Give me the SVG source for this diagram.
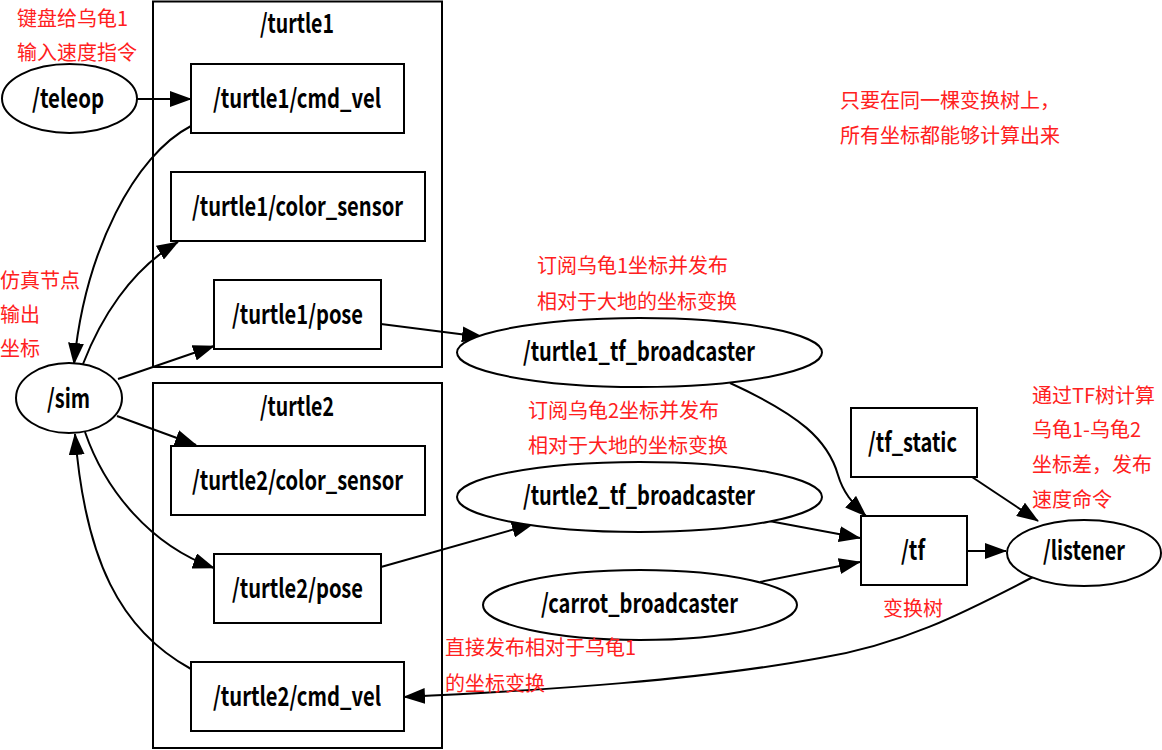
<svg xmlns="http://www.w3.org/2000/svg" width="1162" height="750" viewBox="0 0 1162 750">
<style>
.box{fill:#fff;stroke:#000;stroke-width:2}
.cl{fill:none;stroke:#000;stroke-width:2}
.lbl{font-family:"Noto Sans CJK SC","Noto Sans",sans-serif;font-weight:700;font-size:26px;fill:#000;text-anchor:middle}
.note{font-family:"Noto Sans CJK SC",sans-serif;font-size:20px;fill:#ff2020}
.e{fill:none;stroke:#000;stroke-width:2;marker-end:url(#ah)}
</style>
<defs>
<marker id="ah" viewBox="0 0 22 16" refX="21" refY="8" markerWidth="22" markerHeight="16" markerUnits="userSpaceOnUse" orient="auto">
<path d="M0,0 L22,8 L0,16 z" fill="#000"/>
</marker>
</defs>
<rect width="1162" height="750" fill="#fff"/>

<g id="cluster_turtle1">
<rect class="cl" x="153" y="1.5" width="289" height="365.5"/>
<text class="lbl" x="297" y="33" textLength="74" lengthAdjust="spacingAndGlyphs">/turtle1</text>
</g>
<g id="cluster_turtle2">
<rect class="cl" x="153" y="383" width="289" height="365"/>
<text class="lbl" x="297" y="416" textLength="74" lengthAdjust="spacingAndGlyphs">/turtle2</text>
</g>

<g id="edges">
<path class="e" d="M136,99 L191,99"/>
<path class="e" d="M191,126 C135,155 85,250 74,364"/>
<path class="e" d="M83,364 C100,320 130,270 178,242"/>
<path class="e" d="M118,379 L214,346"/>
<path class="e" d="M117,416 L196,445"/>
<path class="e" d="M85,432 C105,490 150,545 214,568"/>
<path class="e" d="M191,669 C120,630 85,560 75,434"/>
<path class="e" d="M381,324 L483,337"/>
<path class="e" d="M381,567 L533,524"/>
<path class="e" d="M730,383 C800,415 828,440 838,475 C843,492 852,503 866,516"/>
<path class="e" d="M769,521 L860,538"/>
<path class="e" d="M760,582 L860,562"/>
<path class="e" d="M972,477 L1038,521"/>
<path class="e" d="M967,551 L1006,551"/>
<path class="e" d="M1033,577 C960,615 900,645 820,658 C700,680 550,690 404,697"/>
</g>

<g id="teleop">
<ellipse class="box" cx="69.5" cy="98.5" rx="67.5" ry="34.5"/>
<text class="lbl" x="68" y="108" textLength="72" lengthAdjust="spacingAndGlyphs">/teleop</text>
</g>
<g id="sim">
<ellipse class="box" cx="69" cy="398" rx="53" ry="35"/>
<text class="lbl" x="68.5" y="408" textLength="43" lengthAdjust="spacingAndGlyphs">/sim</text>
</g>
<g id="turtle1_cmd_vel">
<rect class="box" x="191" y="64" width="213" height="69"/>
<text class="lbl" x="297" y="108" textLength="168" lengthAdjust="spacingAndGlyphs">/turtle1/cmd_vel</text>
</g>
<g id="turtle1_color_sensor">
<rect class="box" x="171" y="172" width="254" height="69"/>
<text class="lbl" x="297.5" y="216" textLength="211" lengthAdjust="spacingAndGlyphs">/turtle1/color_sensor</text>
</g>
<g id="turtle1_pose">
<rect class="box" x="214" y="280" width="167" height="69"/>
<text class="lbl" x="297.5" y="324" textLength="131" lengthAdjust="spacingAndGlyphs">/turtle1/pose</text>
</g>
<g id="turtle2_color_sensor">
<rect class="box" x="171" y="446" width="254" height="69"/>
<text class="lbl" x="297.5" y="490" textLength="211" lengthAdjust="spacingAndGlyphs">/turtle2/color_sensor</text>
</g>
<g id="turtle2_pose">
<rect class="box" x="214" y="554" width="167" height="69"/>
<text class="lbl" x="297.5" y="598" textLength="131" lengthAdjust="spacingAndGlyphs">/turtle2/pose</text>
</g>
<g id="turtle2_cmd_vel">
<rect class="box" x="191" y="662" width="213" height="69"/>
<text class="lbl" x="297" y="706" textLength="168" lengthAdjust="spacingAndGlyphs">/turtle2/cmd_vel</text>
</g>
<g id="turtle1_tf_broadcaster">
<ellipse class="box" cx="639.5" cy="352.5" rx="182.5" ry="34.5"/>
<text class="lbl" x="639" y="361" textLength="232" lengthAdjust="spacingAndGlyphs">/turtle1_tf_broadcaster</text>
</g>
<g id="turtle2_tf_broadcaster">
<ellipse class="box" cx="639.5" cy="497" rx="182.5" ry="35"/>
<text class="lbl" x="639" y="505" textLength="232" lengthAdjust="spacingAndGlyphs">/turtle2_tf_broadcaster</text>
</g>
<g id="carrot_broadcaster">
<ellipse class="box" cx="640" cy="605" rx="157" ry="35"/>
<text class="lbl" x="639.5" y="613" textLength="197" lengthAdjust="spacingAndGlyphs">/carrot_broadcaster</text>
</g>
<g id="tf_static">
<rect class="box" x="851" y="408" width="126" height="69"/>
<text class="lbl" x="912.5" y="452" textLength="89" lengthAdjust="spacingAndGlyphs">/tf_static</text>
</g>
<g id="tf">
<rect class="box" x="861" y="516" width="106" height="69"/>
<text class="lbl" x="913" y="560" textLength="24" lengthAdjust="spacingAndGlyphs">/tf</text>
</g>
<g id="listener">
<ellipse class="box" cx="1084" cy="553" rx="77" ry="33"/>
<text class="lbl" x="1084" y="560" textLength="82" lengthAdjust="spacingAndGlyphs">/listener</text>
</g>

<g id="notes">
<text class="note" x="17" y="26">键盘给乌龟1</text>
<text class="note" x="17" y="60">输入速度指令</text>
<text class="note" x="0" y="288">仿真节点</text>
<text class="note" x="0" y="322">输出</text>
<text class="note" x="0" y="356">坐标</text>
<text class="note" x="537" y="273">订阅乌龟1坐标并发布</text>
<text class="note" x="537" y="309">相对于大地的坐标变换</text>
<text class="note" x="528" y="418">订阅乌龟2坐标并发布</text>
<text class="note" x="528" y="453">相对于大地的坐标变换</text>
<text class="note" x="840" y="108">只要在同一棵变换树上，</text>
<text class="note" x="840" y="143">所有坐标都能够计算出来</text>
<text class="note" x="1032" y="403">通过TF树计算</text>
<text class="note" x="1032" y="437">乌龟1-乌龟2</text>
<text class="note" x="1032" y="472">坐标差，发布</text>
<text class="note" x="1032" y="507">速度命令</text>
<text class="note" x="883" y="616">变换树</text>
<text class="note" x="445" y="655">直接发布相对于乌龟1</text>
<text class="note" x="445" y="691">的坐标变换</text>
</g>
</svg>
